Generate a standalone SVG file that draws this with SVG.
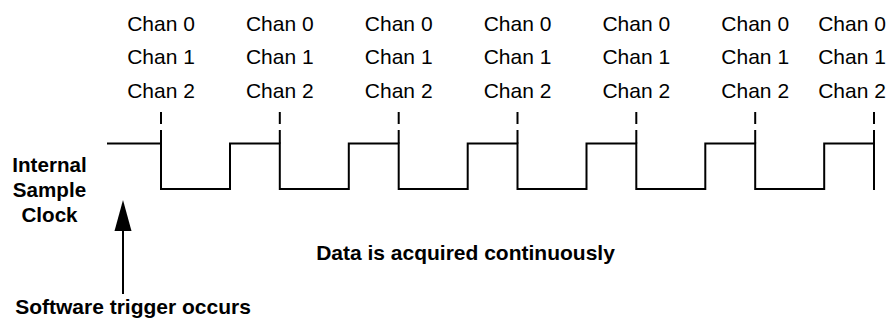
<svg xmlns="http://www.w3.org/2000/svg" width="888" height="321" viewBox="0 0 888 321">
<style>
.ch{font-family:"Liberation Sans",Arial,sans-serif;font-size:21px;fill:#000;text-anchor:middle}
.b{font-family:"Liberation Sans",Arial,sans-serif;font-size:21px;font-weight:bold;fill:#000;text-anchor:middle}
.w{fill:none;stroke:#000;stroke-width:2;stroke-linejoin:miter}
</style>
<defs>
<g id="col">
<text class="ch" x="0" y="30.5">Chan 0</text>
<text class="ch" x="0" y="64">Chan 1</text>
<text class="ch" x="0" y="97.5">Chan 2</text>
<line x1="0" y1="112" x2="0" y2="124" stroke="#000" stroke-width="2"/>
<line x1="0" y1="130" x2="0" y2="143.5" stroke="#000" stroke-width="2"/>
</g>
</defs>
<g id="labels">
<use href="#col" x="161"/>
<use href="#col" x="279.8"/>
<use href="#col" x="398.7"/>
<use href="#col" x="517.5"/>
<use href="#col" x="636.3"/>
<use href="#col" x="755.2"/>
<g>
<text class="ch" x="852" y="30.5">Chan 0</text>
<text class="ch" x="852" y="64">Chan 1</text>
<text class="ch" x="852" y="97.5">Chan 2</text>
<line x1="874" y1="112" x2="874" y2="124" stroke="#000" stroke-width="2"/>
<line x1="874" y1="130" x2="874" y2="143.5" stroke="#000" stroke-width="2"/>
</g>
</g>
<g id="clock">
<path class="w" d="M107,143.5 H161 V189 H230 V143.5 H279.8 V189 H348.8 V143.5 H398.7 V189 H467.7 V143.5 H517.5 V189 H586.5 V143.5 H636.3 V189 H705.3 V143.5 H755.2 V189 H824.2 V143.5 H874 V190"/>
</g>
<g id="clock-label">
<text class="b" x="49.5" y="171.5" style="font-size:20.6px">Internal</text>
<text class="b" x="49.5" y="196.5" style="font-size:20.6px">Sample</text>
<text class="b" x="49.5" y="222" style="font-size:20.6px">Clock</text>
</g>
<g id="data-label">
<text class="b" x="465.5" y="260">Data is acquired continuously</text>
</g>
<g id="trigger-label">
<text class="b" x="133" y="314">Software trigger occurs</text>
</g>
<g id="connectors">
<line x1="123" y1="229" x2="123" y2="294" stroke="#000" stroke-width="2"/>
<polygon points="123,200 114.5,231 131.5,231" fill="#000"/>
</g>
</svg>
